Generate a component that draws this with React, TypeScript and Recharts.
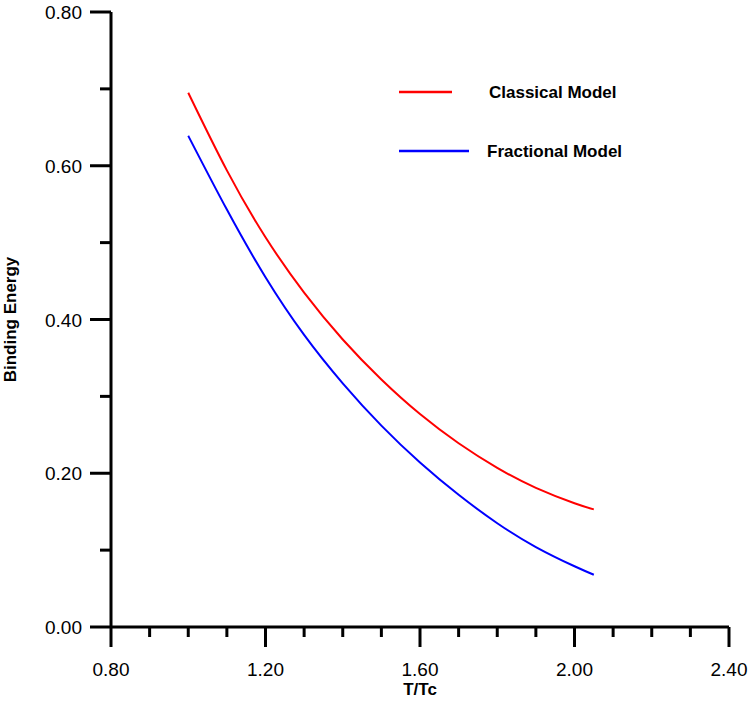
import { Label, Line, LineChart, XAxis, YAxis } from "recharts";

const T_TC = [1.0, 1.1, 1.2, 1.3, 1.4, 1.5, 1.6, 1.7, 1.8, 1.9, 2.0, 2.05];
const CLASSICAL = [0.695, 0.594, 0.507, 0.435, 0.374, 0.322, 0.277, 0.239, 0.207, 0.181, 0.161, 0.153];
const FRACTIONAL = [0.639, 0.543, 0.455, 0.38, 0.317, 0.262, 0.214, 0.172, 0.135, 0.104, 0.079, 0.068];

const X_TICKS = [0.8, 0.9, 1.0, 1.1, 1.2, 1.3, 1.4, 1.5, 1.6, 1.7, 1.8, 1.9, 2.0, 2.1, 2.2, 2.3, 2.4];
const Y_TICKS = [0, 0.1, 0.2, 0.3, 0.4, 0.5, 0.6, 0.7, 0.8];

const data = T_TC.map((t, i) => ({
  t,
  classical: CLASSICAL[i],
  fractional: FRACTIONAL[i],
}));

const FONT = "'Liberation Sans', Arial, sans-serif";

function XTick({ x, y, payload }: any) {
  const major = Math.round(payload.value * 10) % 4 === 0;
  return (
    <g>
      <line x1={x} x2={x} y1={y} y2={y + (major ? 20 : 10)} stroke="#000" strokeWidth={3} />
      {major && (
        <text x={x} y={y + 49} textAnchor="middle" fontFamily={FONT} fontSize={19} fill="#000">
          {payload.value.toFixed(2)}
        </text>
      )}
    </g>
  );
}

function YTick({ x, y, payload }: any) {
  const major = Math.round(payload.value * 10) % 2 === 0;
  return (
    <g>
      <line x1={x} x2={x - (major ? 21 : 11)} y1={y} y2={y} stroke="#000" strokeWidth={3} />
      {major && (
        <text x={x - 29} y={y + 7} textAnchor="end" fontFamily={FONT} fontSize={19} fill="#000">
          {payload.value.toFixed(2)}
        </text>
      )}
    </g>
  );
}

// legend drawn as an overlay, so the chart doesn't reserve space for it
function ModelLegend() {
  return (
    <svg
      width={240}
      height={80}
      style={{ position: "absolute", left: 399, top: 82, display: "block" }}
    >
      <line x1={0} x2={53} y1={10} y2={10} stroke="#ff0000" strokeWidth={2.5} />
      <text x={90} y={16} fontFamily={FONT} fontSize={17} fontWeight="bold" fill="#000">
        Classical Model
      </text>
      <line x1={0} x2={70} y1={69} y2={69} stroke="#0000ff" strokeWidth={2.5} />
      <text x={88} y={75} fontFamily={FONT} fontSize={17} fontWeight="bold" fill="#000">
        Fractional Model
      </text>
    </svg>
  );
}

export default function App() {
  return (
    <div style={{ position: "absolute", left: 0, top: 0, width: 750, height: 702, background: "#fff" }}>
      <LineChart width={750} height={702} data={data} margin={{ top: 12, right: 21, bottom: 0, left: 0 }}>
        <XAxis
          type="number"
          dataKey="t"
          domain={[0.8, 2.4]}
          ticks={X_TICKS}
          interval={0}
          height={75}
          tickSize={0}
          tickMargin={0}
          tickLine={false}
          tick={<XTick />}
          axisLine={{ stroke: "#000", strokeWidth: 3 }}
        >
          <Label
            value="T/Tc"
            position="insideBottom"
            offset={7}
            fontFamily={FONT}
            fontSize={17}
            fontWeight="bold"
            fill="#000"
          />
        </XAxis>
        <YAxis
          type="number"
          domain={[0, 0.8]}
          ticks={Y_TICKS}
          interval={0}
          width={111}
          tickSize={0}
          tickMargin={0}
          tickLine={false}
          tick={<YTick />}
          axisLine={{ stroke: "#000", strokeWidth: 3 }}
        >
          <Label
            content={({ viewBox }: any) => {
              const cy = viewBox.y + viewBox.height / 2;
              return (
                <text
                  x={16}
                  y={cy}
                  transform={`rotate(-90, 16, ${cy})`}
                  textAnchor="middle"
                  fontFamily={FONT}
                  fontSize={17}
                  fontWeight="bold"
                  fill="#000"
                >
                  Binding Energy
                </text>
              );
            }}
          />
        </YAxis>
        <Line
          type="natural"
          dataKey="classical"
          stroke="#ff0000"
          strokeWidth={2}
          dot={false}
          isAnimationActive={false}
        />
        <Line
          type="natural"
          dataKey="fractional"
          stroke="#0000ff"
          strokeWidth={2}
          dot={false}
          isAnimationActive={false}
        />
      </LineChart>
      <ModelLegend />
    </div>
  );
}
